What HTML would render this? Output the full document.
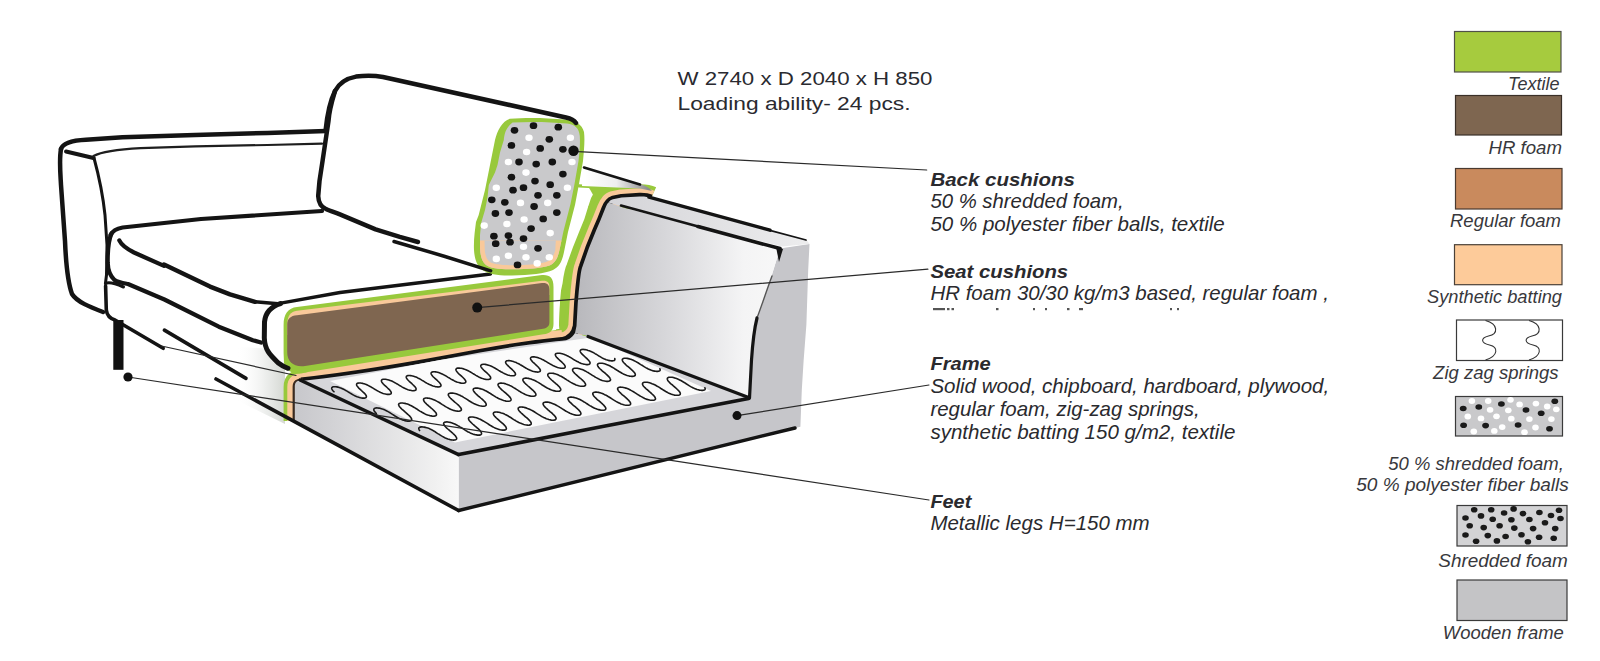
<!DOCTYPE html>
<html><head><meta charset="utf-8">
<style>
html,body{margin:0;padding:0;background:#fff;width:1600px;height:661px;overflow:hidden}
svg{display:block}
text{font-family:"Liberation Sans",sans-serif;fill:#2a2a2e;font-size:19px}
.i{font-style:italic}
.b{font-weight:bold}
.t1{font-size:17.5px;fill:#2a2a30}
.lg{font-style:italic;font-size:17.5px;fill:#38383c}
</style></head>
<body>
<svg width="1600" height="661" viewBox="0 0 1600 661">
<g id="sofa">
<defs>
<linearGradient id="gInner" x1="578" y1="0" x2="785" y2="0" gradientUnits="userSpaceOnUse">
<stop offset="0" stop-color="#b9b9bd"/><stop offset="0.45" stop-color="#d9d9dc"/><stop offset="0.8" stop-color="#f4f4f5"/><stop offset="1" stop-color="#f8f8f8"/></linearGradient>
<linearGradient id="gLeft" x1="297" y1="0" x2="458" y2="0" gradientUnits="userSpaceOnUse">
<stop offset="0" stop-color="#c8c8cc"/><stop offset="0.85" stop-color="#f0f0f0"/><stop offset="1" stop-color="#f8f8f8"/></linearGradient>
<linearGradient id="gTop" x1="610" y1="0" x2="800" y2="0" gradientUnits="userSpaceOnUse">
<stop offset="0" stop-color="#d4d4d8"/><stop offset="1" stop-color="#ececed"/></linearGradient>
<linearGradient id="gSliver" x1="585" y1="0" x2="648" y2="0" gradientUnits="userSpaceOnUse">
<stop offset="0" stop-color="#ffffff"/><stop offset="0.5" stop-color="#eeeeee"/><stop offset="1" stop-color="#8c8c8c"/></linearGradient>
<linearGradient id="gFade" x1="236" y1="0" x2="285" y2="0" gradientUnits="userSpaceOnUse">
<stop offset="0" stop-color="#ffffff" stop-opacity="0"/><stop offset="0.6" stop-color="#e8eae8" stop-opacity="0.8"/><stop offset="1" stop-color="#d4d7d2" stop-opacity="1"/></linearGradient>
<linearGradient id="gFront" x1="458" y1="0" x2="810" y2="0" gradientUnits="userSpaceOnUse">
<stop offset="0" stop-color="#e4e4e6"/><stop offset="0.07" stop-color="#cdcdd1"/><stop offset="0.2" stop-color="#c6c6ca"/><stop offset="1" stop-color="#c4c4c8"/></linearGradient>
</defs>
<path d="M 228,346 L 285,350 L 285,424 L 228,396 Z" fill="url(#gFade)" />
<path d="M 566,338 C 563,330 564,320 565,302 L 566,291 L 567.5,284 C 568.5,276 569.5,270 571.5,266 L 578,248 L 584,233 L 589,221 L 593,208 C 594.5,202 596,198 600,192" fill="none" stroke="#98c93c" stroke-width="10" stroke-linecap="butt" stroke-linejoin="round" />
<path d="M 579,185.8 L 616,188" fill="none" stroke="#98c93c" stroke-width="3.2" stroke-linecap="round" stroke-linejoin="round" />
<path d="M588,186 L614,187.5 L610,197 L596,200Z" fill="#98c93c" />
<path d="M 301,381.1 C 360,375 420,364 480,352.6 C 510,347 540,343 562,340.8 C 570,339.5 575,334 576.5,326 L 577.8,302.6 L 578.8,291 L 579.5,284.4 C 580.5,276 581,270 582.6,266.3 L 589,248 L 596.3,230 L 600.4,220.5 L 605.2,208.4 C 606.5,205 607.5,203.5 608.5,202.5 C 610,200.5 611,199.8 613,199.3 L 621.6,197.6 L 639.7,196.4 C 645,196.3 648,196.8 651,198.2" fill="none" stroke="#98c93c" stroke-width="24.4" stroke-linecap="butt" stroke-linejoin="round" />
<path d="M 294.8,421 L 294.8,387 C 294.8,382 297,380.5 303,380.8" fill="none" stroke="#98c93c" stroke-width="22.4" stroke-linecap="butt" stroke-linejoin="round" />
<path d="M 301,381.1 C 360,375 420,364 480,352.6 C 510,347 540,343 562,340.8 C 570,339.5 575,334 576.5,326 L 577.8,302.6 L 578.8,291 L 579.5,284.4 C 580.5,276 581,270 582.6,266.3 L 589,248 L 596.3,230 L 600.4,220.5 L 605.2,208.4 C 606.5,205 607.5,203.5 608.5,202.5 C 610,200.5 611,199.8 613,199.3 L 621.6,197.6 L 639.7,196.4 C 645,196.3 648,196.8 651,198.2" fill="none" stroke="#f9c99a" stroke-width="16.4" stroke-linecap="butt" stroke-linejoin="round" />
<path d="M 294.8,421 L 294.8,387 C 294.8,382 297,380.5 303,380.8" fill="none" stroke="#f9c99a" stroke-width="15" stroke-linecap="butt" stroke-linejoin="round" />
<path d="M 301,374.3 C 360,368.2 420,357.2 480,345.8 C 510,340.2 540,336.2 562,334" fill="none" stroke="#f9c99a" stroke-width="8" stroke-linecap="butt" stroke-linejoin="round" />
<path d="M 301,381.1 C 360,375 420,364 480,352.6 C 510,347 540,343 562,340.8 C 570,339.5 575,334 576.5,326 L 577.8,302.6 L 578.8,291 L 579.5,284.4 C 580.5,276 581,270 582.6,266.3 L 589,248 L 596.3,230 L 600.4,220.5 L 605.2,208.4 C 606.5,205 607.5,203.5 608.5,202.5 C 610,200.5 611,199.8 613,199.3 L 621.6,197.6 L 639.7,196.4 C 645,196.3 648,196.8 651,198.2" fill="none" stroke="#141414" stroke-width="7.4" stroke-linecap="butt" stroke-linejoin="round" />
<path d="M 294.8,421 L 294.8,387 C 294.8,382 297,380.5 303,380.8" fill="none" stroke="#3a2a20" stroke-width="4.4" stroke-linecap="butt" stroke-linejoin="round" />
<path d="M458.6,454.6 L748.6,398.6 L751,360 L753,340 L757,318 L763,302 L770,281 L780,248.6 L809.5,244 L808.2,270 L806.4,324.5 L803.6,361 L801.8,390 L800.4,426.8 L458.6,510.5Z" fill="#c6c6ca" />
<path d="M 294.8,421 L 294.8,387 C 294.8,382.5 296.5,381 300,380.6 L 458.6,454.6 L 458.6,510.5 Z" fill="url(#gLeft)" />
<path d="M 299,381 L 458.6,454.6 L 748.6,398.6 L 588,337 L 575,333 C 572,338 568,340.5 562,340.8 C 540,343 510,347 480,352.6 C 420,364 360,375 301,381.1 Z" fill="#d6d6da" />
<path d="M330,381 L455,442.5 L711,391 L591,337.5 L560,342 L440,360Z" fill="#fbfbfb" />
<path d="M 576.5,326 L 577.8,302.6 L 578.8,291 L 579.5,284.4 C 580.5,276 581,270 582.6,266.3 L 589,248 L 596.3,230 L 600.4,220.5 L 605.2,208.4 C 606.5,205 607.5,203.5 608.5,202.5 L 623,207.5 L 780,248.6 L 770,281 L 763,302 L 757,318 L 753,340 L 751,360 L 748.6,398 L 588,336 L 575,333 Z" fill="url(#gInner)" />
<path d="M 608.5,202.5 C 610,200.5 611,199.8 613,199.3 L 621.6,197.6 L 639.7,196.4 C 645,196.3 648,196.8 651,198.5 L 807,240.5 L 809.5,244 L 782,246.5 L 623,207 Z" fill="url(#gTop)" />
<polyline points="334.0,391.8 333.3,391.1 332.7,390.4 332.2,389.7 331.9,389.1 331.7,388.5 331.7,388.0 331.9,387.6 332.2,387.3 332.6,387.0 333.3,386.8 334.0,386.7 334.8,386.7 335.8,386.8 336.8,386.9 337.9,387.1 339.0,387.4 340.1,387.8 341.3,388.2 342.4,388.7 343.6,389.3 344.7,389.9 345.8,390.5 347.0,391.1 348.1,391.8 349.2,392.5 350.3,393.2 351.4,393.8 352.5,394.5 353.6,395.1 354.8,395.7 355.9,396.2 357.1,396.7 358.2,397.1 359.4,397.5 360.5,397.8 361.5,398.0 362.5,398.1 363.5,398.1 364.3,398.1 365.0,398.0 365.6,397.8 366.0,397.5 366.3,397.2 366.4,396.7 366.4,396.2 366.2,395.6 365.8,395.0 365.3,394.3 364.7,393.6 364.0,392.9 363.1,392.1 362.3,391.3 361.4,390.5 360.5,389.6 359.6,388.8 358.8,388.1 358.1,387.3 357.5,386.6 357.0,385.9 356.7,385.3 356.6,384.8 356.6,384.3 356.7,383.9 357.0,383.5 357.5,383.3 358.1,383.1 358.9,383.0 359.7,383.0 360.7,383.0 361.7,383.2 362.8,383.4 363.9,383.7 365.0,384.1 366.2,384.5 367.3,385.0 368.5,385.6 369.6,386.2 370.8,386.8 371.9,387.5 373.0,388.1 374.1,388.8 375.2,389.5 376.3,390.1 377.4,390.8 378.5,391.4 379.7,392.0 380.8,392.5 382.0,393.0 383.1,393.4 384.3,393.8 385.4,394.0 386.4,394.2 387.4,394.4 388.4,394.4 389.2,394.4 389.9,394.3 390.5,394.1 390.9,393.8 391.2,393.4 391.3,393.0 391.2,392.5 391.0,391.9 390.7,391.2 390.1,390.6 389.5,389.8 388.8,389.1 387.9,388.3 387.1,387.5 386.2,386.7 385.3,385.9 384.4,385.1 383.6,384.3 382.9,383.6 382.3,382.8 381.9,382.2 381.6,381.6 381.4,381.0 381.4,380.5 381.6,380.1 381.9,379.8 382.4,379.5 383.0,379.3 383.8,379.3 384.6,379.2 385.6,379.3 386.6,379.5 387.7,379.7 388.8,380.0 390.0,380.4 391.1,380.8 392.3,381.3 393.4,381.9 394.5,382.5 395.7,383.1 396.8,383.8 397.9,384.4 399.0,385.1 400.1,385.8 401.2,386.4 402.3,387.1 403.5,387.7 404.6,388.3 405.7,388.8 406.9,389.3 408.0,389.7 409.2,390.1 410.3,390.3 411.3,390.5 412.3,390.7 413.3,390.7 414.1,390.6 414.8,390.5 415.3,390.3 415.8,390.0 416.0,389.7 416.1,389.2 416.1,388.7 415.9,388.1 415.5,387.5 415.0,386.8 414.3,386.1 413.6,385.3 412.7,384.5 411.9,383.7 411.0,382.9 410.1,382.1 409.2,381.3 408.4,380.5 407.7,379.8 407.1,379.1 406.7,378.4 406.4,377.8 406.2,377.3 406.3,376.8 406.4,376.4 406.8,376.0 407.3,375.8 407.9,375.6 408.7,375.5 409.5,375.5 410.5,375.6 411.5,375.8 412.6,376.0 413.7,376.3 414.9,376.7 416.0,377.1 417.2,377.6 418.3,378.2 419.5,378.8 420.6,379.4 421.7,380.1 422.8,380.7 423.9,381.4 425.0,382.1 426.1,382.8 427.2,383.4 428.4,384.0 429.5,384.6 430.7,385.1 431.8,385.6 433.0,386.0 434.1,386.3 435.2,386.6 436.3,386.8 437.2,386.9 438.2,387.0 439.0,386.9 439.7,386.8 440.2,386.6 440.6,386.3 440.9,385.9 441.0,385.5 440.9,384.9 440.7,384.4 440.3,383.7 439.8,383.0 439.1,382.3 438.4,381.5 437.6,380.8 436.7,379.9 435.8,379.1 434.9,378.3 434.0,377.5 433.2,376.8 432.5,376.0 432.0,375.3 431.5,374.6 431.2,374.0 431.1,373.5 431.1,373.0 431.3,372.6 431.7,372.3 432.2,372.0 432.8,371.9 433.6,371.8 434.4,371.8 435.4,371.9 436.4,372.0 437.5,372.3 438.6,372.6 439.8,373.0 440.9,373.4 442.1,373.9 443.2,374.5 444.4,375.1 445.5,375.7 446.6,376.4 447.7,377.1 448.8,377.7 449.9,378.4 451.0,379.1 452.2,379.7 453.3,380.3 454.4,380.9 455.6,381.4 456.7,381.9 457.9,382.3 459.0,382.6 460.1,382.9 461.2,383.1 462.1,383.2 463.1,383.2 463.9,383.2 464.5,383.0 465.1,382.8 465.5,382.5 465.8,382.1 465.8,381.7 465.8,381.2 465.5,380.6 465.1,380.0 464.6,379.3 463.9,378.5 463.2,377.8 462.4,377.0 461.5,376.2 460.6,375.4 459.7,374.6 458.8,373.8 458.0,373.0 457.4,372.2 456.8,371.5 456.4,370.9 456.1,370.3 455.9,369.7 456.0,369.3 456.2,368.9 456.5,368.5 457.0,368.3 457.7,368.1 458.5,368.1 459.3,368.1 460.3,368.2 461.3,368.3 462.4,368.6 463.6,368.9 464.7,369.3 465.9,369.7 467.0,370.2 468.2,370.8 469.3,371.4 470.4,372.0 471.5,372.7 472.6,373.4 473.7,374.0 474.8,374.7 475.9,375.4 477.1,376.0 478.2,376.6 479.3,377.2 480.5,377.7 481.6,378.2 482.8,378.6 483.9,378.9 485.0,379.2 486.1,379.4 487.1,379.5 488.0,379.5 488.8,379.4 489.4,379.3 490.0,379.1 490.4,378.8 490.6,378.4 490.7,377.9 490.6,377.4 490.4,376.8 490.0,376.2 489.4,375.5 488.8,374.8 488.0,374.0 487.2,373.2 486.3,372.4 485.4,371.6 484.5,370.8 483.6,370.0 482.9,369.2 482.2,368.5 481.6,367.8 481.2,367.1 480.9,366.5 480.8,366.0 480.8,365.5 481.0,365.1 481.4,364.8 481.9,364.6 482.6,364.4 483.4,364.3 484.3,364.3 485.2,364.4 486.3,364.6 487.3,364.9 488.5,365.2 489.6,365.6 490.8,366.0 491.9,366.5 493.1,367.1 494.2,367.7 495.3,368.3 496.4,369.0 497.5,369.7 498.6,370.4 499.7,371.0 500.9,371.7 502.0,372.3 503.1,372.9 504.3,373.5 505.4,374.0 506.6,374.5 507.7,374.9 508.8,375.2 509.9,375.5 511.0,375.7 512.0,375.8 512.9,375.8 513.6,375.7 514.3,375.6 514.9,375.3 515.2,375.0 515.5,374.6 515.5,374.2 515.4,373.7 515.2,373.1 514.8,372.4 514.2,371.7 513.6,371.0 512.8,370.2 512.0,369.4 511.1,368.6 510.2,367.8 509.3,367.0 508.4,366.2 507.7,365.4 507.0,364.7 506.4,364.0 506.0,363.4 505.7,362.8 505.6,362.2 505.7,361.8 505.9,361.4 506.3,361.1 506.8,360.8 507.5,360.7 508.3,360.6 509.2,360.6 510.1,360.7 511.2,360.9 512.3,361.2 513.4,361.5 514.5,361.9 515.7,362.3 516.8,362.9 518.0,363.4 519.1,364.0 520.2,364.7 521.3,365.3 522.5,366.0 523.6,366.7 524.7,367.3 525.8,368.0 526.9,368.6 528.0,369.2 529.2,369.8 530.3,370.3 531.5,370.8 532.6,371.2 533.7,371.5 534.8,371.8 535.9,371.9 536.9,372.0 537.7,372.1 538.5,372.0 539.2,371.8 539.7,371.6 540.1,371.3 540.3,370.9 540.4,370.4 540.3,369.9 540.0,369.3 539.6,368.7 539.0,368.0 538.4,367.2 537.6,366.5 536.8,365.7 535.9,364.9 535.0,364.0 534.1,363.2 533.2,362.4 532.5,361.7 531.8,360.9 531.3,360.2 530.8,359.6 530.6,359.0 530.5,358.5 530.6,358.0 530.8,357.6 531.2,357.3 531.7,357.1 532.4,356.9 533.2,356.9 534.1,356.9 535.0,357.0 536.1,357.2 537.2,357.4 538.3,357.8 539.4,358.2 540.6,358.6 541.8,359.2 542.9,359.7 544.0,360.3 545.1,361.0 546.3,361.6 547.4,362.3 548.5,363.0 549.6,363.6 550.7,364.3 551.8,364.9 552.9,365.5 554.1,366.1 555.2,366.6 556.4,367.1 557.5,367.5 558.7,367.8 559.8,368.0 560.8,368.2 561.8,368.3 562.6,368.3 563.4,368.2 564.1,368.1 564.6,367.9 565.0,367.5 565.2,367.1 565.2,366.7 565.1,366.1 564.8,365.5 564.4,364.9 563.9,364.2 563.2,363.5 562.4,362.7 561.6,361.9 560.7,361.1 559.8,360.3 558.9,359.5 558.0,358.7 557.3,357.9 556.6,357.2 556.1,356.5 555.7,355.8 555.4,355.2 555.3,354.7 555.4,354.3 555.6,353.9 556.0,353.6 556.6,353.4 557.3,353.2 558.1,353.2 559.0,353.2 559.9,353.3 561.0,353.5 562.1,353.7 563.2,354.1 564.4,354.5 565.5,354.9 566.7,355.5 567.8,356.0 568.9,356.6 570.1,357.3 571.2,357.9 572.3,358.6 573.4,359.3 574.5,360.0 575.6,360.6 576.7,361.2 577.9,361.8 579.0,362.4 580.2,362.9 581.3,363.4 582.5,363.8 583.6,364.1 584.7,364.3 585.7,364.5 586.7,364.6 587.5,364.6 588.3,364.5 589.0,364.4 589.5,364.1 589.8,363.8 590.0,363.4 590.1,362.9 590.0,362.4 589.7,361.8 589.2,361.1 588.7,360.4 588.0,359.7 587.2,358.9 586.4,358.1 585.5,357.3 584.6,356.5 583.7,355.7 582.9,354.9 582.1,354.1 581.4,353.4 580.9,352.7 580.5,352.1 580.3,351.5 580.2,351.0 580.3,350.5 580.5,350.1 580.9,349.8 581.5,349.6 582.2,349.5 583.0,349.4 583.9,349.5 584.9,349.6 585.9,349.8 587.0,350.0 588.1,350.4 589.3,350.8 590.4,351.2 591.6,351.8 592.7,352.3 593.9,352.9 595.0,353.6 596.1,354.2 597.2,354.9 598.3,355.6 599.4,356.3 600.5,356.9 601.6,357.6 602.8,358.2 603.9,358.7 605.1,359.2 606.2,359.7 607.4,360.0 608.5,360.4 609.6,360.6 610.6,360.8 611.6,360.9 612.4,360.9 613.2,360.8 613.9,360.6 614.4,360.4 614.7,360.0 614.9,359.6 614.9,359.2 614.8,358.6" fill="none" stroke="#1a1a1a" stroke-width="1.6" stroke-linejoin="round" stroke-linecap="round"/>
<polyline points="376.3,413.5 375.5,412.6 374.8,411.8 374.3,411.0 373.9,410.3 373.8,409.7 373.9,409.2 374.1,408.8 374.5,408.4 375.1,408.1 375.9,408.0 376.8,407.9 377.8,408.0 378.9,408.1 380.0,408.3 381.3,408.7 382.5,409.1 383.8,409.5 385.1,410.1 386.3,410.7 387.6,411.4 388.9,412.1 390.1,412.8 391.3,413.6 392.5,414.4 393.8,415.2 395.0,416.0 396.2,416.7 397.5,417.5 398.7,418.1 400.0,418.8 401.3,419.3 402.6,419.9 403.8,420.3 405.0,420.6 406.2,420.9 407.4,421.1 408.4,421.1 409.3,421.1 410.1,421.0 410.8,420.8 411.3,420.4 411.6,420.0 411.7,419.5 411.6,418.9 411.3,418.3 410.9,417.5 410.2,416.7 409.5,415.9 408.5,415.0 407.5,414.1 406.4,413.1 405.3,412.2 404.2,411.2 403.1,410.2 402.0,409.3 401.1,408.4 400.3,407.5 399.6,406.7 399.1,406.0 398.8,405.3 398.6,404.7 398.7,404.2 399.0,403.7 399.4,403.4 400.0,403.2 400.8,403.0 401.7,403.0 402.7,403.0 403.8,403.2 405.0,403.4 406.2,403.7 407.5,404.1 408.7,404.6 410.0,405.2 411.3,405.8 412.6,406.5 413.8,407.2 415.0,407.9 416.3,408.7 417.5,409.5 418.7,410.3 419.9,411.1 421.2,411.8 422.4,412.5 423.7,413.2 425.0,413.9 426.2,414.4 427.5,414.9 428.8,415.3 430.0,415.7 431.2,415.9 432.3,416.1 433.3,416.2 434.2,416.1 435.0,416.0 435.7,415.8 436.1,415.4 436.4,415.0 436.5,414.5 436.4,413.9 436.2,413.2 435.7,412.5 435.0,411.7 434.2,410.9 433.3,410.0 432.3,409.0 431.2,408.1 430.1,407.1 428.9,406.2 427.8,405.2 426.8,404.3 425.9,403.4 425.0,402.5 424.4,401.7 423.9,401.0 423.6,400.3 423.5,399.7 423.6,399.2 423.9,398.7 424.3,398.4 424.9,398.2 425.7,398.0 426.6,398.0 427.6,398.1 428.8,398.2 429.9,398.4 431.2,398.8 432.4,399.2 433.7,399.7 435.0,400.3 436.2,400.9 437.5,401.6 438.8,402.3 440.0,403.0 441.2,403.8 442.4,404.6 443.7,405.4 444.9,406.2 446.1,406.9 447.4,407.6 448.6,408.3 449.9,408.9 451.2,409.5 452.5,410.0 453.7,410.4 454.9,410.7 456.1,411.0 457.2,411.1 458.3,411.2 459.2,411.1 459.9,411.0 460.6,410.8 461.0,410.4 461.3,410.0 461.4,409.5 461.3,408.9 461.0,408.2 460.5,407.5 459.8,406.7 459.0,405.8 458.1,404.9 457.1,404.0 455.9,403.0 454.8,402.1 453.7,401.1 452.6,400.2 451.6,399.2 450.6,398.3 449.8,397.5 449.2,396.7 448.7,395.9 448.4,395.3 448.3,394.7 448.4,394.2 448.7,393.7 449.2,393.4 449.8,393.2 450.6,393.1 451.5,393.0 452.6,393.1 453.7,393.3 454.9,393.5 456.1,393.8 457.4,394.3 458.6,394.8 459.9,395.3 461.2,396.0 462.5,396.6 463.7,397.4 464.9,398.1 466.2,398.9 467.4,399.7 468.6,400.5 469.8,401.2 471.1,402.0 472.3,402.7 473.6,403.4 474.9,404.0 476.1,404.6 477.4,405.1 478.7,405.5 479.9,405.8 481.1,406.0 482.2,406.2 483.2,406.2 484.1,406.2 484.9,406.0 485.5,405.8 485.9,405.4 486.2,405.0 486.2,404.5 486.1,403.9 485.8,403.2 485.3,402.4 484.6,401.6 483.8,400.8 482.9,399.9 481.8,398.9 480.7,398.0 479.6,397.0 478.4,396.1 477.3,395.1 476.3,394.2 475.4,393.3 474.6,392.4 474.0,391.6 473.5,390.9 473.3,390.2 473.2,389.7 473.3,389.2 473.6,388.7 474.1,388.4 474.7,388.2 475.5,388.1 476.5,388.1 477.5,388.1 478.6,388.3 479.8,388.6 481.1,388.9 482.3,389.3 483.6,389.8 484.9,390.4 486.2,391.0 487.4,391.7 488.7,392.5 489.9,393.2 491.1,394.0 492.3,394.8 493.6,395.6 494.8,396.3 496.0,397.1 497.3,397.8 498.5,398.5 499.8,399.1 501.1,399.6 502.4,400.1 503.6,400.5 504.8,400.8 506.0,401.1 507.1,401.2 508.1,401.2 509.0,401.2 509.8,401.0 510.4,400.8 510.8,400.4 511.0,400.0 511.1,399.5 510.9,398.9 510.6,398.2 510.1,397.4 509.4,396.6 508.6,395.7 507.6,394.8 506.6,393.9 505.5,392.9 504.3,392.0 503.2,391.0 502.1,390.1 501.1,389.1 500.2,388.2 499.4,387.4 498.8,386.6 498.4,385.9 498.1,385.2 498.0,384.6 498.2,384.2 498.5,383.7 499.0,383.4 499.7,383.2 500.5,383.1 501.4,383.1 502.5,383.2 503.6,383.3 504.8,383.6 506.0,384.0 507.3,384.4 508.6,384.9 509.8,385.5 511.1,386.1 512.4,386.8 513.6,387.6 514.8,388.3 516.1,389.1 517.3,389.9 518.5,390.7 519.7,391.4 521.0,392.2 522.2,392.9 523.5,393.6 524.8,394.2 526.0,394.7 527.3,395.2 528.6,395.6 529.8,395.9 531.0,396.1 532.0,396.2 533.0,396.3 533.9,396.2 534.7,396.0 535.2,395.8 535.7,395.4 535.9,395.0 535.9,394.4 535.8,393.8 535.4,393.1 534.9,392.4 534.2,391.6 533.4,390.7 532.4,389.8 531.3,388.8 530.2,387.9 529.1,386.9 528.0,386.0 526.9,385.0 525.9,384.1 525.0,383.2 524.2,382.4 523.6,381.6 523.2,380.9 522.9,380.2 522.9,379.6 523.0,379.1 523.4,378.7 523.9,378.4 524.6,378.2 525.4,378.1 526.3,378.1 527.4,378.2 528.5,378.4 529.7,378.7 531.0,379.0 532.2,379.5 533.5,380.0 534.8,380.6 536.1,381.2 537.3,381.9 538.6,382.6 539.8,383.4 541.0,384.2 542.2,385.0 543.5,385.8 544.7,386.5 545.9,387.3 547.2,388.0 548.4,388.6 549.7,389.2 551.0,389.8 552.3,390.3 553.5,390.6 554.7,390.9 555.9,391.2 557.0,391.3 558.0,391.3 558.8,391.2 559.6,391.1 560.1,390.8 560.5,390.4 560.7,390.0 560.8,389.4 560.6,388.8 560.2,388.1 559.7,387.3 559.0,386.5 558.1,385.6 557.2,384.7 556.1,383.8 555.0,382.8 553.8,381.9 552.7,380.9 551.6,380.0 550.6,379.0 549.8,378.2 549.0,377.3 548.4,376.5 548.0,375.8 547.8,375.2 547.8,374.6 547.9,374.1 548.3,373.8 548.8,373.5 549.5,373.3 550.3,373.2 551.3,373.2 552.3,373.3 553.5,373.4 554.7,373.7 555.9,374.1 557.2,374.5 558.5,375.1 559.7,375.7 561.0,376.3 562.3,377.0 563.5,377.7 564.7,378.5 566.0,379.3 567.2,380.1 568.4,380.8 569.6,381.6 570.9,382.4 572.1,383.1 573.4,383.7 574.7,384.3 576.0,384.9 577.2,385.3 578.5,385.7 579.7,386.0 580.8,386.2 581.9,386.3 582.9,386.3 583.8,386.3 584.5,386.1 585.0,385.8 585.4,385.4 585.6,385.0 585.6,384.4 585.4,383.8 585.0,383.1 584.5,382.3 583.8,381.5 582.9,380.6 581.9,379.7 580.9,378.7 579.7,377.8 578.6,376.8 577.5,375.9 576.4,374.9 575.4,374.0 574.5,373.1 573.8,372.3 573.2,371.5 572.8,370.8 572.6,370.2 572.6,369.6 572.8,369.1 573.2,368.8 573.7,368.5 574.4,368.3 575.2,368.2 576.2,368.2 577.3,368.3 578.4,368.5 579.6,368.8 580.9,369.2 582.1,369.6 583.4,370.1 584.7,370.7 586.0,371.4 587.2,372.1 588.5,372.8 589.7,373.6 590.9,374.4 592.1,375.2 593.4,375.9 594.6,376.7 595.8,377.4 597.1,378.1 598.4,378.8 599.6,379.4 600.9,379.9 602.2,380.4 603.4,380.8 604.6,381.0 605.8,381.2 606.9,381.4 607.8,381.4 608.7,381.3 609.4,381.1 609.9,380.8 610.3,380.4 610.5,379.9 610.5,379.4 610.2,378.8 609.9,378.0 609.3,377.3 608.5,376.4 607.7,375.6 606.7,374.6 605.6,373.7 604.5,372.7 603.4,371.8 602.2,370.8 601.2,369.9 600.2,369.0 599.3,368.1 598.6,367.3 598.0,366.5 597.7,365.8 597.5,365.1 597.5,364.6 597.7,364.1 598.0,363.8 598.6,363.5 599.3,363.3 600.2,363.2 601.1,363.2 602.2,363.3 603.4,363.5 604.6,363.8 605.8,364.2 607.1,364.7 608.4,365.2 609.7,365.8 610.9,366.5 612.2,367.2 613.4,367.9 614.6,368.7 615.9,369.5 617.1,370.3 618.3,371.0 619.5,371.8 620.8,372.5 622.0,373.2 623.3,373.9 624.6,374.5 625.9,375.0 627.1,375.4 628.4,375.8 629.6,376.1 630.7,376.3 631.8,376.4 632.7,376.4 633.6,376.3 634.3,376.1 634.8,375.8 635.2,375.4 635.3,374.9 635.3,374.4 635.1,373.7 634.7,373.0 634.1,372.2 633.3,371.4 632.4,370.5 631.5,369.6 630.4,368.7 629.3,367.7 628.1,366.7 627.0,365.8 625.9,364.8 625.0,363.9 624.1,363.0 623.4,362.2 622.9,361.5 622.5,360.8 622.3,360.1 622.3,359.6 622.5,359.1 622.9,358.8 623.5,358.5 624.2,358.3 625.1,358.2 626.1,358.3 627.2,358.4 628.3,358.6 629.5,358.9 630.8,359.3 632.1,359.8 633.3,360.3 634.6,360.9 635.9,361.6 637.1,362.3 638.4,363.0 639.6,363.8 640.8,364.6 642.0,365.3 643.3,366.1 644.5,366.9 645.7,367.6 647.0,368.3 648.3,369.0 649.5,369.5 650.8,370.1 652.1,370.5 653.3,370.9 654.5,371.1 655.7,371.3 656.7,371.4 657.7,371.4 658.5,371.3 659.2,371.1 659.7,370.8 660.0,370.4 660.2,369.9 660.1,369.4 659.9,368.7" fill="none" stroke="#1a1a1a" stroke-width="1.6" stroke-linejoin="round" stroke-linecap="round"/>
<polyline points="419.6,430.5 419.2,429.8 418.9,429.1 418.8,428.5 418.9,428.0 419.2,427.6 419.7,427.3 420.3,427.1 421.1,426.9 422.0,426.9 423.0,427.0 424.1,427.1 425.3,427.4 426.6,427.7 427.8,428.1 429.1,428.6 430.4,429.2 431.6,429.8 432.9,430.5 434.2,431.2 435.4,432.0 436.6,432.8 437.8,433.6 439.1,434.3 440.3,435.1 441.5,435.9 442.8,436.6 444.0,437.3 445.3,437.9 446.6,438.4 447.9,438.9 449.1,439.3 450.3,439.7 451.5,439.9 452.6,440.0 453.6,440.1 454.5,440.0 455.3,439.9 455.9,439.6 456.3,439.3 456.6,438.9 456.7,438.4 456.6,437.8 456.2,437.1 455.7,436.3 455.1,435.5 454.3,434.7 453.3,433.8 452.3,432.8 451.2,431.9 450.0,430.9 448.9,429.9 447.8,429.0 446.8,428.1 445.9,427.2 445.1,426.3 444.5,425.5 444.0,424.8 443.7,424.1 443.6,423.5 443.8,423.0 444.1,422.6 444.5,422.3 445.2,422.1 446.0,422.0 446.9,421.9 447.9,422.0 449.1,422.2 450.3,422.4 451.5,422.8 452.7,423.2 454.0,423.7 455.3,424.3 456.6,424.9 457.8,425.6 459.1,426.3 460.3,427.1 461.5,427.8 462.8,428.6 464.0,429.4 465.2,430.2 466.4,430.9 467.7,431.7 469.0,432.3 470.2,432.9 471.5,433.5 472.8,434.0 474.0,434.4 475.3,434.7 476.4,434.9 477.5,435.1 478.5,435.1 479.4,435.1 480.2,434.9 480.8,434.7 481.2,434.3 481.5,433.9 481.5,433.4 481.4,432.7 481.1,432.1 480.6,431.3 479.9,430.5 479.1,429.6 478.1,428.7 477.1,427.8 476.0,426.8 474.8,425.9 473.7,424.9 472.6,424.0 471.6,423.0 470.7,422.1 469.9,421.3 469.3,420.5 468.8,419.8 468.6,419.1 468.5,418.5 468.6,418.0 468.9,417.6 469.4,417.3 470.1,417.1 470.9,417.0 471.8,417.0 472.9,417.0 474.0,417.2 475.2,417.5 476.4,417.8 477.7,418.3 478.9,418.8 480.2,419.3 481.5,420.0 482.8,420.7 484.0,421.4 485.2,422.1 486.5,422.9 487.7,423.7 488.9,424.5 490.1,425.3 491.4,426.0 492.6,426.7 493.9,427.4 495.1,428.0 496.4,428.6 497.7,429.0 499.0,429.4 500.2,429.8 501.3,430.0 502.4,430.1 503.4,430.1 504.3,430.1 505.1,429.9 505.7,429.7 506.1,429.3 506.3,428.9 506.4,428.3 506.2,427.7 505.9,427.0 505.4,426.3 504.7,425.5 503.9,424.6 502.9,423.7 501.9,422.8 500.7,421.8 499.6,420.9 498.5,419.9 497.4,418.9 496.4,418.0 495.5,417.1 494.7,416.3 494.1,415.5 493.7,414.8 493.4,414.1 493.3,413.5 493.5,413.0 493.8,412.6 494.3,412.3 495.0,412.1 495.8,412.0 496.7,412.0 497.8,412.1 498.9,412.2 500.1,412.5 501.3,412.9 502.6,413.3 503.9,413.8 505.1,414.4 506.4,415.0 507.7,415.7 508.9,416.5 510.2,417.2 511.4,418.0 512.6,418.8 513.8,419.6 515.0,420.3 516.3,421.1 517.5,421.8 518.8,422.5 520.1,423.1 521.4,423.6 522.6,424.1 523.9,424.5 525.1,424.8 526.3,425.0 527.4,425.1 528.3,425.2 529.2,425.1 530.0,424.9 530.5,424.7 531.0,424.3 531.2,423.9 531.2,423.3 531.1,422.7 530.7,422.0 530.2,421.3 529.5,420.5 528.7,419.6 527.7,418.7 526.6,417.7 525.5,416.8 524.4,415.8 523.3,414.9 522.2,413.9 521.2,413.0 520.3,412.1 519.5,411.3 518.9,410.5 518.5,409.8 518.2,409.1 518.2,408.5 518.3,408.0 518.7,407.7 519.2,407.3 519.9,407.1 520.7,407.0 521.6,407.0 522.7,407.1 523.8,407.3 525.0,407.6 526.3,407.9 527.5,408.4 528.8,408.9 530.1,409.5 531.3,410.1 532.6,410.8 533.8,411.5 535.1,412.3 536.3,413.1 537.5,413.9 538.7,414.6 540.0,415.4 541.2,416.2 542.5,416.9 543.7,417.5 545.0,418.1 546.3,418.7 547.5,419.1 548.8,419.5 550.0,419.8 551.2,420.1 552.3,420.2 553.3,420.2 554.1,420.1 554.9,420.0 555.4,419.7 555.8,419.3 556.0,418.9 556.1,418.3 555.9,417.7 555.5,417.0 555.0,416.3 554.3,415.4 553.4,414.6 552.5,413.7 551.4,412.7 550.3,411.8 549.2,410.8 548.0,409.8 547.0,408.9 546.0,408.0 545.1,407.1 544.3,406.2 543.7,405.5 543.3,404.7 543.1,404.1 543.1,403.5 543.2,403.1 543.6,402.7 544.1,402.4 544.8,402.2 545.6,402.1 546.5,402.1 547.6,402.1 548.7,402.3 549.9,402.6 551.2,403.0 552.4,403.4 553.7,403.9 555.0,404.5 556.3,405.2 557.5,405.9 558.8,406.6 560.0,407.4 561.2,408.1 562.4,408.9 563.7,409.7 564.9,410.5 566.1,411.2 567.4,411.9 568.6,412.6 569.9,413.2 571.2,413.7 572.5,414.2 573.7,414.6 574.9,414.9 576.1,415.1 577.2,415.2 578.2,415.2 579.0,415.2 579.7,415.0 580.3,414.7 580.7,414.3 580.9,413.9 580.9,413.3 580.7,412.7 580.4,412.0 579.8,411.2 579.1,410.4 578.2,409.5 577.3,408.6 576.2,407.7 575.1,406.7 574.0,405.8 572.8,404.8 571.8,403.9 570.8,402.9 569.9,402.1 569.1,401.2 568.6,400.5 568.2,399.7 567.9,399.1 567.9,398.5 568.1,398.1 568.4,397.7 569.0,397.4 569.7,397.2 570.5,397.1 571.4,397.1 572.5,397.2 573.7,397.4 574.9,397.7 576.1,398.0 577.4,398.5 578.6,399.0 579.9,399.6 581.2,400.2 582.4,400.9 583.7,401.7 584.9,402.4 586.1,403.2 587.4,404.0 588.6,404.8 589.8,405.6 591.1,406.3 592.3,407.0 593.6,407.7 594.8,408.3 596.1,408.8 597.4,409.3 598.6,409.6 599.9,409.9 601.0,410.1 602.1,410.2 603.1,410.3 603.9,410.2 604.6,410.0 605.2,409.7 605.6,409.3 605.8,408.9 605.8,408.3 605.6,407.7 605.2,407.0 604.6,406.2 603.9,405.4 603.0,404.5 602.1,403.6 601.0,402.7 599.9,401.7 598.7,400.7 597.6,399.8 596.5,398.8 595.6,397.9 594.7,397.0 594.0,396.2 593.4,395.4 593.0,394.7 592.8,394.1 592.8,393.5 592.9,393.1 593.3,392.7 593.8,392.4 594.5,392.2 595.4,392.1 596.4,392.1 597.4,392.2 598.6,392.4 599.8,392.7 601.0,393.1 602.3,393.5 603.6,394.1 604.8,394.7 606.1,395.3 607.4,396.0 608.6,396.8 609.8,397.5 611.1,398.3 612.3,399.1 613.5,399.9 614.7,400.6 616.0,401.4 617.2,402.1 618.5,402.7 619.8,403.3 621.1,403.9 622.3,404.3 623.6,404.7 624.8,405.0 625.9,405.2 627.0,405.3 628.0,405.3 628.8,405.2 629.5,405.0 630.1,404.7 630.4,404.4 630.6,403.9 630.6,403.3 630.4,402.7 630.0,402.0 629.4,401.2 628.7,400.4 627.8,399.5 626.9,398.6 625.8,397.6 624.7,396.7 623.5,395.7 622.4,394.8 621.3,393.8 620.4,392.9 619.5,392.0 618.8,391.2 618.2,390.4 617.8,389.7 617.6,389.1 617.6,388.5 617.8,388.1 618.2,387.7 618.7,387.4 619.4,387.2 620.3,387.1 621.3,387.2 622.3,387.3 623.5,387.5 624.7,387.8 625.9,388.1 627.2,388.6 628.5,389.1 629.8,389.7 631.0,390.4 632.3,391.1 633.5,391.8 634.8,392.6 636.0,393.4 637.2,394.2 638.4,394.9 639.7,395.7 640.9,396.4 642.2,397.1 643.4,397.8 644.7,398.4 646.0,398.9 647.2,399.4 648.5,399.7 649.7,400.0 650.8,400.2 651.9,400.3 652.9,400.3 653.7,400.2 654.4,400.0 654.9,399.7 655.3,399.4 655.5,398.9 655.4,398.3 655.2,397.7 654.8,397.0 654.3,396.2 653.5,395.4 652.6,394.5 651.6,393.6 650.6,392.6 649.4,391.7 648.3,390.7 647.2,389.7 646.1,388.8 645.2,387.9 644.3,387.0 643.6,386.2 643.0,385.4 642.6,384.7 642.5,384.1 642.5,383.5 642.7,383.1 643.1,382.7 643.6,382.4 644.3,382.2 645.2,382.2 646.2,382.2 647.3,382.3 648.4,382.5 649.6,382.8 650.9,383.2 652.1,383.7 653.4,384.2 654.7,384.8 656.0,385.5 657.2,386.2 658.5,386.9 659.7,387.7 660.9,388.5 662.1,389.2 663.3,390.0 664.6,390.8 665.8,391.5 667.1,392.2 668.3,392.9 669.6,393.4 670.9,394.0 672.2,394.4 673.4,394.8 674.6,395.1 675.8,395.3 676.8,395.3 677.8,395.3 678.6,395.2 679.3,395.0 679.8,394.8 680.2,394.4 680.3,393.9 680.3,393.3 680.1,392.7 679.7,392.0 679.1,391.2 678.3,390.3 677.4,389.5 676.4,388.5 675.4,387.6 674.2,386.6 673.1,385.7 672.0,384.7 670.9,383.8 669.9,382.9 669.1,382.0 668.4,381.2 667.8,380.4 667.5,379.7 667.3,379.1 667.3,378.5 667.5,378.1 667.9,377.7 668.5,377.4 669.2,377.3 670.1,377.2 671.1,377.2 672.2,377.3 673.3,377.6 674.5,377.9 675.8,378.3 677.1,378.7 678.3,379.3 679.6,379.9 680.9,380.5 682.1,381.2 683.4,382.0 684.6,382.7 685.8,383.5 687.0,384.3 688.3,385.1 689.5,385.9 690.7,386.6 692.0,387.3 693.3,387.9 694.5,388.5 695.8,389.0 697.1,389.5 698.3,389.8 699.5,390.1 700.7,390.3 701.7,390.4 702.7,390.4 703.5,390.3 704.2,390.1 704.7,389.8 705.0,389.4 705.2,388.9 705.1,388.3 704.9,387.7" fill="none" stroke="#1a1a1a" stroke-width="1.6" stroke-linejoin="round" stroke-linecap="round"/>
<path d="M 649,197.2 L 770,230.2" fill="none" stroke="#141414" stroke-width="3.4" stroke-linecap="round" stroke-linejoin="round" />
<path d="M 768,229.8 L 806,240" fill="none" stroke="#141414" stroke-width="1.8" stroke-linecap="round" stroke-linejoin="round" />
<path d="M 621,205.5 L 700,227" fill="none" stroke="#141414" stroke-width="2.6" stroke-linecap="round" stroke-linejoin="round" />
<path d="M 698,226.5 L 780,248.6" fill="none" stroke="#141414" stroke-width="3.6" stroke-linecap="round" stroke-linejoin="round" />
<path d="M 588,336.5 L 748.6,397.5" fill="none" stroke="#141414" stroke-width="3.4" stroke-linecap="round" stroke-linejoin="round" />
<path d="M 772,276 C 766,292 762,305 757,318" fill="none" stroke="#555" stroke-width="1.4" stroke-linecap="round" stroke-linejoin="round" />
<path d="M 757,318 C 754,330 752.5,345 751.5,360 L 749.5,398" fill="none" stroke="#141414" stroke-width="3.2" stroke-linecap="round" stroke-linejoin="round" />
<path d="M 776,247 L 783,249 L 779,262 Z" fill="#141414" />
<path d="M 458.6,454.6 L 600,427 L 748.6,398.6" fill="none" stroke="#141414" stroke-width="3.6" stroke-linecap="round" stroke-linejoin="round" />
<path d="M 458.6,510.5 L 795,428" fill="none" stroke="#141414" stroke-width="3.4" stroke-linecap="round" stroke-linejoin="round" />
<path d="M 216,379 L 458.6,510.5" fill="none" stroke="#141414" stroke-width="3.6" stroke-linecap="round" stroke-linejoin="round" />
<path d="M 300,380 L 458.6,454.6" fill="none" stroke="#141414" stroke-width="3.4" stroke-linecap="round" stroke-linejoin="round" />
<path d="M 583,166.5 L 640,184 C 646,186 650,188 652,191 L 640,188.5 L 582,186 Z" fill="url(#gSliver)" />
<path d="M 584,167.5 L 640,184.5" fill="none" stroke="#141414" stroke-width="2.6" stroke-linecap="round" stroke-linejoin="round" />
<path d="M 266,305 L 340,291.5 L 490,273.5 L 556,266 L 560,300 L 556,330 L 305,370 L 285,368 L 272,358 L 263,342 L 263,316 Z" fill="#ffffff" />
<path d="M 283.6,325 C 283.6,314 288,308 297,307 L 542,275 C 550,274.5 553.5,278 553.5,287 L 553.5,324 C 553.5,330.5 550,333.5 543.5,334.3 L 308,372 C 297,375.5 286,373 284,363 L 283.6,353 Z" fill="#98c93c" />
<path d="M 287.2,325 C 287.2,316 290.5,311.5 297,310.7 L 542,280.8 C 547.5,280.3 549.4,282.5 549.4,287 L 549.4,295 L 287.2,335 Z" fill="#f9c99a" />
<path d="M 287.2,325 C 287.2,318.5 290.5,315.8 297,315.2 L 542,283 C 547.5,282.5 549.4,285 549.4,290 L 549.4,322 C 549.4,326 547.5,328 543,328.8 L 305,366 C 294,367.5 287.2,362 287.2,352 Z" fill="#7f6650" />
<path d="M 280.5,303.6 C 271,306.5 265.5,312 264.5,322 L 264.3,338 C 264.8,350 270,355 278,362.7 C 281,365 284,367 288,368.3" fill="none" stroke="#141414" stroke-width="5" stroke-linecap="round" stroke-linejoin="round" />
<path d="M 255,301.8 L 278,303.8" fill="none" stroke="#141414" stroke-width="3.4" stroke-linecap="round" stroke-linejoin="round" />
<path d="M 278,303.6 L 340,292.5 L 490.5,274" fill="none" stroke="#141414" stroke-width="3.4" stroke-linecap="round" stroke-linejoin="round" />
<path d="M 510,118.7 C 525,117.5 545,117.5 565,119.5 C 575,120.5 582,124 584,132 C 585,140 584,150 583,161 L 579,184 L 575,205 L 568,232 L 564,252 C 562,262 559,267 553,270 C 545,273.5 530,275 512,275.5 C 500,276 488,274 482.5,270 C 477,266 474.5,259 474,250 C 473.5,240 475,230 476,222 L 478.7,215 L 485,190 L 490,165 L 495,140 C 497,131 502,121 510,118.7 Z" fill="#98c93c" />
<path d="M 512.5,122.5 C 530,121.5 550,121.8 567,123.5 C 575,124.5 579,128 579.8,136 C 580.3,145 579.5,152 578.5,161 L 574.5,184 L 570.5,204 L 563.5,231 L 559.5,250 C 557.5,259 555,263 549.5,265.5 C 540,268.5 525,269.5 510,269.3 C 498,269.2 490,268 486,265 C 482,262 480.3,256 480,248 L 480,235 L 481.3,222.5 L 485,210 L 487.5,197.5 L 488.8,185 L 495,172.5 L 497.5,165 L 500,152.5 L 503.8,140 C 504.5,133 506,127.5 512.5,122.5 Z" fill="#c9c9cb" />
<clipPath id="cpB"><rect x="470" y="240.5" width="120" height="40"/></clipPath>
<path d="M 512.5,122.5 C 530,121.5 550,121.8 567,123.5 C 575,124.5 579,128 579.8,136 C 580.3,145 579.5,152 578.5,161 L 574.5,184 L 570.5,204 L 563.5,231 L 559.5,250 C 557.5,259 555,263 549.5,265.5 C 540,268.5 525,269.5 510,269.3 C 498,269.2 490,268 486,265 C 482,262 480.3,256 480,248 L 480,235 L 481.3,222.5 L 485,210 L 487.5,197.5 L 488.8,185 L 495,172.5 L 497.5,165 L 500,152.5 L 503.8,140 C 504.5,133 506,127.5 512.5,122.5 Z" fill="#f9c99a" clip-path="url(#cpB)"/>
<path d="M 484.5,238 L 556,238 L 555.3,250 C 553.5,257 551,260 546,262 C 538,264.5 525,265.3 511,265.2 C 500,265.1 493,264 490,262 C 486.5,259.5 485,255 484.7,249 Z" fill="#c9c9cb" clip-path="url(#cpB)"/>
<ellipse cx="529" cy="137.8" rx="3.7" ry="3.3" fill="#fff"/>
<ellipse cx="570.4" cy="137.8" rx="3.7" ry="3.3" fill="#fff"/>
<ellipse cx="526.6" cy="152" rx="3.7" ry="3.3" fill="#fff"/>
<ellipse cx="508.4" cy="162" rx="3.7" ry="3.3" fill="#fff"/>
<ellipse cx="572" cy="162" rx="3.7" ry="3.3" fill="#fff"/>
<ellipse cx="526" cy="172.6" rx="3.7" ry="3.3" fill="#fff"/>
<ellipse cx="496.3" cy="187.7" rx="3.7" ry="3.3" fill="#fff"/>
<ellipse cx="567.4" cy="187.7" rx="3.7" ry="3.3" fill="#fff"/>
<ellipse cx="520.5" cy="202.9" rx="3.7" ry="3.3" fill="#fff"/>
<ellipse cx="547.7" cy="202.9" rx="3.7" ry="3.3" fill="#fff"/>
<ellipse cx="484.2" cy="225.6" rx="3.7" ry="3.3" fill="#fff"/>
<ellipse cx="524.1" cy="219.5" rx="3.7" ry="3.3" fill="#fff"/>
<ellipse cx="506.9" cy="224" rx="3.7" ry="3.3" fill="#fff"/>
<ellipse cx="550.2" cy="233.1" rx="3.7" ry="3.3" fill="#fff"/>
<ellipse cx="523.5" cy="246.7" rx="3.7" ry="3.3" fill="#fff"/>
<ellipse cx="496.3" cy="258.9" rx="3.7" ry="3.3" fill="#fff"/>
<ellipse cx="508.4" cy="255.8" rx="3.7" ry="3.3" fill="#fff"/>
<ellipse cx="526" cy="257.3" rx="3.7" ry="3.3" fill="#fff"/>
<ellipse cx="549.3" cy="257.3" rx="3.7" ry="3.3" fill="#fff"/>
<ellipse cx="537.2" cy="263.4" rx="3.7" ry="3.3" fill="#fff"/>
<ellipse cx="514.5" cy="130.3" rx="3.8" ry="3.4" fill="#141414"/>
<ellipse cx="533.5" cy="125.7" rx="3.8" ry="3.4" fill="#141414"/>
<ellipse cx="558.3" cy="127.2" rx="3.8" ry="3.4" fill="#141414"/>
<ellipse cx="549.3" cy="139.3" rx="3.8" ry="3.4" fill="#141414"/>
<ellipse cx="511.4" cy="145.4" rx="3.8" ry="3.4" fill="#141414"/>
<ellipse cx="540.2" cy="148.4" rx="3.8" ry="3.4" fill="#141414"/>
<ellipse cx="562.9" cy="149.3" rx="3.8" ry="3.4" fill="#141414"/>
<ellipse cx="519" cy="162" rx="3.8" ry="3.4" fill="#141414"/>
<ellipse cx="536.2" cy="164.1" rx="3.8" ry="3.4" fill="#141414"/>
<ellipse cx="552.3" cy="162" rx="3.8" ry="3.4" fill="#141414"/>
<ellipse cx="511.4" cy="177.2" rx="3.8" ry="3.4" fill="#141414"/>
<ellipse cx="535" cy="181.1" rx="3.8" ry="3.4" fill="#141414"/>
<ellipse cx="550.2" cy="184.7" rx="3.8" ry="3.4" fill="#141414"/>
<ellipse cx="562.9" cy="174.1" rx="3.8" ry="3.4" fill="#141414"/>
<ellipse cx="513" cy="190.2" rx="3.8" ry="3.4" fill="#141414"/>
<ellipse cx="523.5" cy="187.7" rx="3.8" ry="3.4" fill="#141414"/>
<ellipse cx="538" cy="195.3" rx="3.8" ry="3.4" fill="#141414"/>
<ellipse cx="556.8" cy="195.3" rx="3.8" ry="3.4" fill="#141414"/>
<ellipse cx="491.8" cy="199.8" rx="3.8" ry="3.4" fill="#141414"/>
<ellipse cx="504.8" cy="202.3" rx="3.8" ry="3.4" fill="#141414"/>
<ellipse cx="534.1" cy="206.5" rx="3.8" ry="3.4" fill="#141414"/>
<ellipse cx="495.4" cy="213.5" rx="3.8" ry="3.4" fill="#141414"/>
<ellipse cx="509" cy="212.6" rx="3.8" ry="3.4" fill="#141414"/>
<ellipse cx="543.2" cy="218.9" rx="3.8" ry="3.4" fill="#141414"/>
<ellipse cx="556.8" cy="212.6" rx="3.8" ry="3.4" fill="#141414"/>
<ellipse cx="531.1" cy="228.6" rx="3.8" ry="3.4" fill="#141414"/>
<ellipse cx="493.9" cy="236.2" rx="3.8" ry="3.4" fill="#141414"/>
<ellipse cx="508.4" cy="235.6" rx="3.8" ry="3.4" fill="#141414"/>
<ellipse cx="495.7" cy="243.7" rx="3.8" ry="3.4" fill="#141414"/>
<ellipse cx="510" cy="242.2" rx="3.8" ry="3.4" fill="#141414"/>
<ellipse cx="523.5" cy="238.6" rx="3.8" ry="3.4" fill="#141414"/>
<ellipse cx="538" cy="248.3" rx="3.8" ry="3.4" fill="#141414"/>
<ellipse cx="517.5" cy="264.9" rx="3.8" ry="3.4" fill="#141414"/>
<path d="M 61,149 C 63,143 72,140.5 86,139.8 L 122.5,137.2 L 195,135 L 267.5,133 L 326,131" fill="none" stroke="#141414" stroke-width="4.5" stroke-linecap="round" stroke-linejoin="round" />
<path d="M 61,149 C 59,160 60.5,175 61,185 L 65,241 C 66,265 68,283 72,294 C 77,302 90,307 103,312" fill="none" stroke="#141414" stroke-width="4.5" stroke-linecap="round" stroke-linejoin="round" />
<path d="M 66,151.5 L 93.5,158" fill="none" stroke="#141414" stroke-width="4" stroke-linecap="round" stroke-linejoin="round" />
<path d="M 94,158 C 100,180 103,196 105,215 L 107,245 L 106.5,275 L 105.5,283" fill="none" stroke="#141414" stroke-width="3" stroke-linecap="round" stroke-linejoin="round" />
<path d="M 93.5,156 C 100,152.5 115,149.5 140.6,148.1 L 195,146.3 L 267.5,145 L 322,143.6" fill="none" stroke="#1e1e1e" stroke-width="2.2" stroke-linecap="round" stroke-linejoin="round" />
<path d="M 325.5,131 C 327,116 330,101 335,91 C 339,83 346,78.5 356,76.6 C 366,75.3 375,75.6 383,77 L 566,117.5 C 571,118.5 574,120 576,123" fill="none" stroke="#141414" stroke-width="4.5" stroke-linecap="round" stroke-linejoin="round" />
<path d="M 335,91 C 331,104 329,112 328.5,121 L 322.7,160 L 319.5,181 L 318.2,196 C 318.5,203 321,207 326,209 C 330,211 335,212.5 339.3,214.2 L 375.6,229.3 L 399.8,236.9 L 418,242" fill="none" stroke="#141414" stroke-width="4.5" stroke-linecap="round" stroke-linejoin="round" />
<path d="M 394,241.5 L 445,256.5 L 490.7,270.8" fill="none" stroke="#141414" stroke-width="3.4" stroke-linecap="round" stroke-linejoin="round" />
<path d="M 110.5,235 C 113,230 117,228.5 122.6,227.5 L 201,219 L 322,211" fill="none" stroke="#141414" stroke-width="4.2" stroke-linecap="round" stroke-linejoin="round" />
<path d="M 111.5,233.5 C 108.5,240 107.6,250 107.7,262.7 C 108,270 110,276 114.5,280 C 118,282.5 122,283 128,284 L 164.4,299.5 L 218.8,326.7 L 252.8,340.2 L 261,342.6" fill="none" stroke="#141414" stroke-width="4.2" stroke-linecap="round" stroke-linejoin="round" />
<path d="M 119.3,240.4 C 121,244 126,248.5 134,252.5 L 164,265.8" fill="none" stroke="#141414" stroke-width="4.2" stroke-linecap="round" stroke-linejoin="round" />
<path d="M 164,264.6 L 210,286.6 L 230,294.4 L 255,301.8" fill="none" stroke="#141414" stroke-width="4.4" stroke-linecap="round" stroke-linejoin="round" />
<path d="M 105.4,283.6 C 108,282 113,282.5 123.5,287" fill="none" stroke="#141414" stroke-width="3" stroke-linecap="round" stroke-linejoin="round" />
<path d="M 105.6,286 L 106.3,310 C 107,316 110,318.5 115,320 L 163.2,348.3" fill="none" stroke="#141414" stroke-width="3.6" stroke-linecap="round" stroke-linejoin="round" />
<path d="M 164.4,330.1 L 246,378.4" fill="none" stroke="#141414" stroke-width="3.6" stroke-linecap="round" stroke-linejoin="round" />
<rect x="113.3" y="320" width="10.2" height="49.8" fill="#111"/>
<path d="M 573.3,151.3 L 926.7,170" fill="none" stroke="#2a2a2a" stroke-width="1.2" stroke-linecap="round" stroke-linejoin="round" />
<path d="M 477,307.6 L 927.9,269.2" fill="none" stroke="#2a2a2a" stroke-width="1.2" stroke-linecap="round" stroke-linejoin="round" />
<path d="M 737,415.6 L 929,385" fill="none" stroke="#2a2a2a" stroke-width="1.2" stroke-linecap="round" stroke-linejoin="round" />
<path d="M 128,377 L 929,500" fill="none" stroke="#2a2a2a" stroke-width="1.2" stroke-linecap="round" stroke-linejoin="round" />
<path d="M 161.5,346 L 296,375.5" fill="none" stroke="#2a2a2a" stroke-width="1.2" stroke-linecap="round" stroke-linejoin="round" />
<circle cx="573.5" cy="150.8" r="5.2" fill="#111"/>
<circle cx="477.2" cy="307.6" r="5" fill="#111"/>
<circle cx="737" cy="415.6" r="4.5" fill="#111"/>
<circle cx="128" cy="377" r="4.6" fill="#111"/>
</g>
<g id="txt">
<text class="t1" x="677.5" y="85" textLength="255" lengthAdjust="spacingAndGlyphs">W 2740 x D 2040 x H 850</text>
<text class="t1" x="677.5" y="110" textLength="233" lengthAdjust="spacingAndGlyphs">Loading ability- 24 pcs.</text>
<text class="i b" x="930.4" y="186" textLength="144.5" lengthAdjust="spacingAndGlyphs">Back cushions</text>
<text class="i" style="font-size:19.8px" x="930.4" y="208.4" textLength="193.2" lengthAdjust="spacingAndGlyphs">50 % shredded foam,</text>
<text class="i" style="font-size:19.8px" x="930.4" y="231.4" textLength="294.4" lengthAdjust="spacingAndGlyphs">50 % polyester fiber balls, textile</text>
<text class="i b" x="930.4" y="277.5" textLength="137.8" lengthAdjust="spacingAndGlyphs">Seat cushions</text>
<text class="i" style="font-size:19.8px" x="930.4" y="299.9" textLength="398.5" lengthAdjust="spacingAndGlyphs">HR foam 30/30 kg/m3 based, regular foam ,</text>
<text class="i b" x="930.4" y="370" textLength="60.4" lengthAdjust="spacingAndGlyphs">Frame</text>
<text class="i" style="font-size:19.8px" x="930.4" y="392.9" textLength="398.8" lengthAdjust="spacingAndGlyphs">Solid wood, chipboard, hardboard, plywood,</text>
<text class="i" style="font-size:19.8px" x="930.4" y="416.4" textLength="269.2" lengthAdjust="spacingAndGlyphs">regular foam, zig-zag springs,</text>
<text class="i" style="font-size:19.8px" x="930.4" y="438.9" textLength="305" lengthAdjust="spacingAndGlyphs">synthetic batting 150 g/m2, textile</text>
<text class="i b" x="930.4" y="508" textLength="40.9" lengthAdjust="spacingAndGlyphs">Feet</text>
<text class="i" style="font-size:19.8px" x="930.4" y="529.9" textLength="219.3" lengthAdjust="spacingAndGlyphs">Metallic legs H=150 mm</text>
<rect x="933" y="308" width="12" height="2.2" fill="#555"/>
<rect x="947" y="308" width="2.5" height="2.2" fill="#555"/>
<rect x="951.5" y="308" width="2.5" height="2.2" fill="#555"/>
<rect x="996" y="308" width="2.5" height="2.2" fill="#555"/>
<rect x="1033" y="308" width="2" height="2.2" fill="#555"/>
<rect x="1045" y="308" width="2" height="2.2" fill="#555"/>
<rect x="1067" y="308" width="2.5" height="2.2" fill="#555"/>
<rect x="1079" y="308" width="4" height="2.2" fill="#555"/>
<rect x="1170" y="308" width="2" height="2.2" fill="#555"/>
<rect x="1177" y="308" width="2" height="2.2" fill="#555"/>
</g>

<g id="legend">
<rect x="1454.5" y="31.5" width="106.5" height="40.5" fill="#a6cb3e" stroke="#505048" stroke-width="1.2"/>
<text class="lg" x="1559.6" y="90" text-anchor="end" textLength="51.5" lengthAdjust="spacingAndGlyphs">Textile</text>
<rect x="1455.5" y="95.5" width="106" height="39.5" fill="#7e6650" stroke="#3a3028" stroke-width="1.2"/>
<text class="lg" x="1562" y="154.3" text-anchor="end" textLength="73.5" lengthAdjust="spacingAndGlyphs">HR foam</text>
<rect x="1455.5" y="168.5" width="106.5" height="40.5" fill="#c98a5d" stroke="#4a3a30" stroke-width="1.2"/>
<text class="lg" x="1561" y="227.3" text-anchor="end" textLength="111" lengthAdjust="spacingAndGlyphs">Regular foam</text>
<rect x="1454.5" y="244.7" width="107.5" height="40" fill="#fdcb9a" stroke="#4a4038" stroke-width="1.2"/>
<text class="lg" x="1562" y="302.5" text-anchor="end" textLength="135" lengthAdjust="spacingAndGlyphs">Synthetic batting</text>
<rect x="1456.5" y="320" width="106" height="40.5" fill="#fff" stroke="#3a3a3a" stroke-width="1.2"/>
<path d="M1485.5,320.5 C1498.5,324 1498.5,334 1488.5,336 C1480.5,338 1480.5,343 1489.5,345 C1498.5,347 1498.5,356 1485.5,360" fill="none" stroke="#333" stroke-width="1.1"/>
<path d="M1529,320.5 C1542,324 1542,334 1532,336 C1524,338 1524,343 1533,345 C1542,347 1542,356 1529,360" fill="none" stroke="#333" stroke-width="1.1"/>
<text class="lg" x="1558.6" y="379.3" text-anchor="end" textLength="125.5" lengthAdjust="spacingAndGlyphs">Zig zag springs</text>
<rect x="1455.5" y="396.5" width="107" height="39.5" fill="#c9c9cb" stroke="#3a3a3a" stroke-width="1.2"/>
<ellipse cx="1471.9" cy="401" rx="3.3" ry="2.9" fill="#fff"/>
<ellipse cx="1488.2" cy="401" rx="3.3" ry="2.9" fill="#fff"/>
<ellipse cx="1510.5" cy="399.8" rx="3.3" ry="2.9" fill="#fff"/>
<ellipse cx="1519.6" cy="404.4" rx="3.3" ry="2.9" fill="#fff"/>
<ellipse cx="1535.9" cy="403.6" rx="3.3" ry="2.9" fill="#fff"/>
<ellipse cx="1547.2" cy="406.5" rx="3.3" ry="2.9" fill="#fff"/>
<ellipse cx="1556.3" cy="409.3" rx="3.3" ry="2.9" fill="#fff"/>
<ellipse cx="1490.1" cy="409.8" rx="3.3" ry="2.9" fill="#fff"/>
<ellipse cx="1508.3" cy="410.3" rx="3.3" ry="2.9" fill="#fff"/>
<ellipse cx="1467.8" cy="416.5" rx="3.3" ry="2.9" fill="#fff"/>
<ellipse cx="1481" cy="418.4" rx="3.3" ry="2.9" fill="#fff"/>
<ellipse cx="1496.5" cy="416.3" rx="3.3" ry="2.9" fill="#fff"/>
<ellipse cx="1511.3" cy="418.7" rx="3.3" ry="2.9" fill="#fff"/>
<ellipse cx="1529.4" cy="419.1" rx="3.3" ry="2.9" fill="#fff"/>
<ellipse cx="1551.4" cy="419.1" rx="3.3" ry="2.9" fill="#fff"/>
<ellipse cx="1502.2" cy="427.1" rx="3.3" ry="2.9" fill="#fff"/>
<ellipse cx="1535.5" cy="427.5" rx="3.3" ry="2.9" fill="#fff"/>
<ellipse cx="1473.8" cy="431.5" rx="3.3" ry="2.9" fill="#fff"/>
<ellipse cx="1494.3" cy="430.9" rx="3.3" ry="2.9" fill="#fff"/>
<ellipse cx="1524.5" cy="432.2" rx="3.3" ry="2.9" fill="#fff"/>
<ellipse cx="1463.2" cy="408.5" rx="3.4" ry="2.8" fill="#1a1a1a"/>
<ellipse cx="1478.8" cy="407" rx="3.4" ry="2.8" fill="#1a1a1a"/>
<ellipse cx="1501.4" cy="404" rx="3.4" ry="2.8" fill="#1a1a1a"/>
<ellipse cx="1526" cy="410" rx="3.4" ry="2.8" fill="#1a1a1a"/>
<ellipse cx="1554.8" cy="401.2" rx="3.4" ry="2.8" fill="#1a1a1a"/>
<ellipse cx="1541.2" cy="413.3" rx="3.4" ry="2.8" fill="#1a1a1a"/>
<ellipse cx="1463.6" cy="425.2" rx="3.4" ry="2.8" fill="#1a1a1a"/>
<ellipse cx="1485.6" cy="425.6" rx="3.4" ry="2.8" fill="#1a1a1a"/>
<ellipse cx="1518.1" cy="425" rx="3.4" ry="2.8" fill="#1a1a1a"/>
<ellipse cx="1549.5" cy="428.7" rx="3.4" ry="2.8" fill="#1a1a1a"/>
<text class="lg" x="1563.8" y="470" text-anchor="end" textLength="175.5" lengthAdjust="spacingAndGlyphs">50 % shredded foam,</text>
<text class="lg" x="1568.8" y="490.5" text-anchor="end" textLength="212.5" lengthAdjust="spacingAndGlyphs">50 % polyester fiber balls</text>
<rect x="1457" y="505.5" width="110" height="40.5" fill="#d3d3d5" stroke="#3a3a3a" stroke-width="1.2"/>
<ellipse cx="1474.2" cy="509.8" rx="3.3" ry="2.8" fill="#1a1a1a"/>
<ellipse cx="1491.2" cy="509.7" rx="3.3" ry="2.8" fill="#1a1a1a"/>
<ellipse cx="1513.6" cy="508.9" rx="3.3" ry="2.8" fill="#1a1a1a"/>
<ellipse cx="1559" cy="510.2" rx="3.3" ry="2.8" fill="#1a1a1a"/>
<ellipse cx="1504.1" cy="513" rx="3.3" ry="2.8" fill="#1a1a1a"/>
<ellipse cx="1523" cy="513.6" rx="3.3" ry="2.8" fill="#1a1a1a"/>
<ellipse cx="1539.4" cy="512.5" rx="3.3" ry="2.8" fill="#1a1a1a"/>
<ellipse cx="1551" cy="515.5" rx="3.3" ry="2.8" fill="#1a1a1a"/>
<ellipse cx="1465.5" cy="518" rx="3.3" ry="2.8" fill="#1a1a1a"/>
<ellipse cx="1481" cy="515.9" rx="3.3" ry="2.8" fill="#1a1a1a"/>
<ellipse cx="1492.7" cy="519.3" rx="3.3" ry="2.8" fill="#1a1a1a"/>
<ellipse cx="1511.4" cy="519.8" rx="3.3" ry="2.8" fill="#1a1a1a"/>
<ellipse cx="1529.4" cy="519.5" rx="3.3" ry="2.8" fill="#1a1a1a"/>
<ellipse cx="1560.5" cy="518.5" rx="3.3" ry="2.8" fill="#1a1a1a"/>
<ellipse cx="1545" cy="522.8" rx="3.3" ry="2.8" fill="#1a1a1a"/>
<ellipse cx="1469.7" cy="525.7" rx="3.3" ry="2.8" fill="#1a1a1a"/>
<ellipse cx="1483.7" cy="527.6" rx="3.3" ry="2.8" fill="#1a1a1a"/>
<ellipse cx="1499.6" cy="525.7" rx="3.3" ry="2.8" fill="#1a1a1a"/>
<ellipse cx="1514.3" cy="528.1" rx="3.3" ry="2.8" fill="#1a1a1a"/>
<ellipse cx="1533.1" cy="528.6" rx="3.3" ry="2.8" fill="#1a1a1a"/>
<ellipse cx="1555.2" cy="528.6" rx="3.3" ry="2.8" fill="#1a1a1a"/>
<ellipse cx="1465.5" cy="535" rx="3.3" ry="2.8" fill="#1a1a1a"/>
<ellipse cx="1487.8" cy="535.6" rx="3.3" ry="2.8" fill="#1a1a1a"/>
<ellipse cx="1505.6" cy="536.5" rx="3.3" ry="2.8" fill="#1a1a1a"/>
<ellipse cx="1521.5" cy="534.7" rx="3.3" ry="2.8" fill="#1a1a1a"/>
<ellipse cx="1539.1" cy="537.2" rx="3.3" ry="2.8" fill="#1a1a1a"/>
<ellipse cx="1553.7" cy="538.2" rx="3.3" ry="2.8" fill="#1a1a1a"/>
<ellipse cx="1476.1" cy="541.2" rx="3.3" ry="2.8" fill="#1a1a1a"/>
<ellipse cx="1496.9" cy="540.9" rx="3.3" ry="2.8" fill="#1a1a1a"/>
<ellipse cx="1527.9" cy="541.8" rx="3.3" ry="2.8" fill="#1a1a1a"/>
<text class="lg" x="1567.8" y="567.3" text-anchor="end" textLength="129.5" lengthAdjust="spacingAndGlyphs">Shredded foam</text>
<rect x="1457" y="580" width="110" height="40.5" fill="#c4c4c6" stroke="#3a3a3a" stroke-width="1.2"/>
<text class="lg" x="1563.8" y="639" text-anchor="end" textLength="121" lengthAdjust="spacingAndGlyphs">Wooden frame</text>
</g>
</svg>
</body></html>
